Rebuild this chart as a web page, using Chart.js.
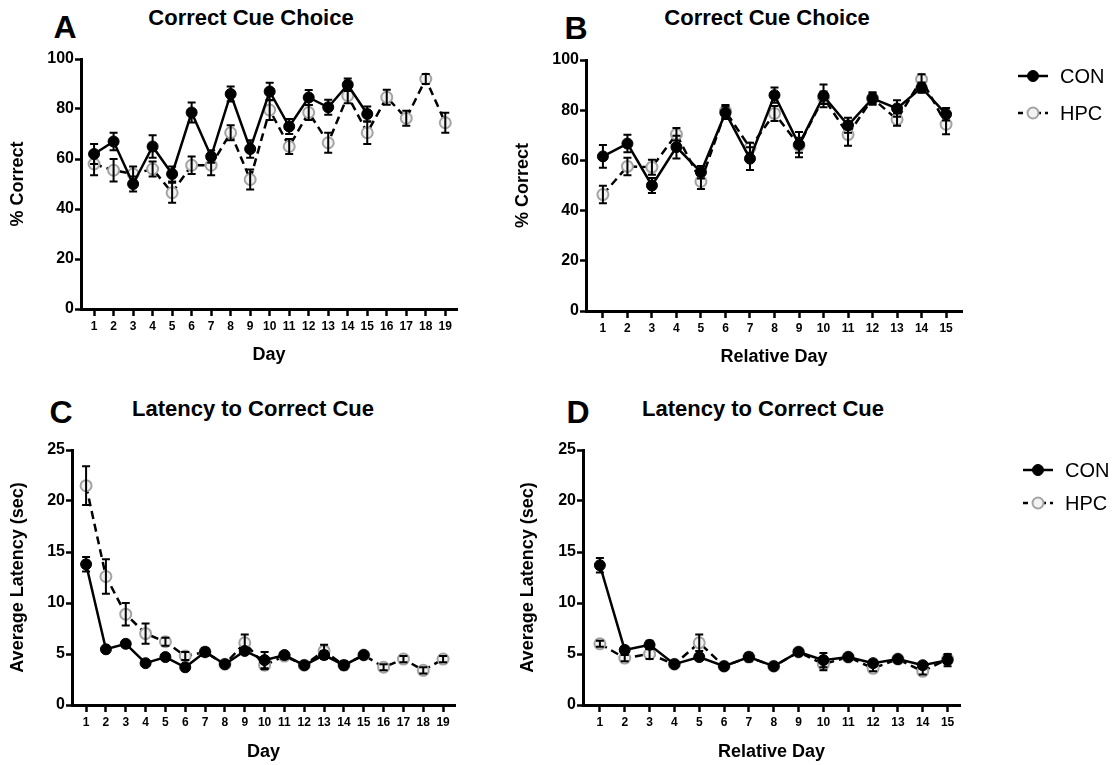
<!DOCTYPE html>
<html>
<head>
<meta charset="utf-8">
<script src="https://cdn.jsdelivr.net/npm/chart.js@4.4.1/dist/chart.umd.min.js"></script>
<style>
  body { margin: 0; background: #fff; width: 1115px; height: 765px; position: relative; overflow: hidden;
         font-family: "Liberation Sans", Arial, sans-serif; }
  canvas { position: absolute; }
  .title { position: absolute; font-weight: bold; font-size: 22px; transform: translate(-50%, -50%); white-space: nowrap; }
  .letter { position: absolute; font-weight: bold; font-size: 32px; transform: translate(-50%, -50%); }
</style>
</head>
<body>
<div class="letter" style="left:65px;top:27px">A</div>
<div class="letter" style="left:576px;top:28px">B</div>
<div class="letter" style="left:61px;top:412px">C</div>
<div class="letter" style="left:578px;top:412px">D</div>
<div class="title" style="left:251px;top:18px">Correct Cue Choice</div>
<div class="title" style="left:767px;top:18px">Correct Cue Choice</div>
<div class="title" style="left:253px;top:409px">Latency to Correct Cue</div>
<div class="title" style="left:763px;top:409px">Latency to Correct Cue</div>

<canvas id="chartA" width="470" height="380" style="left:0;top:0"></canvas>
<canvas id="chartB" width="615" height="380" style="left:500px;top:0"></canvas>
<canvas id="chartC" width="470" height="380" style="left:0;top:385px"></canvas>
<canvas id="chartD" width="615" height="380" style="left:500px;top:385px"></canvas>

<script>
// days
const days = [1, 2, 3, 4, 5, 6, 7, 8, 9, 10, 11, 12, 13, 14, 15, 16, 17, 18, 19];
const relDays = [1, 2, 3, 4, 5, 6, 7, 8, 9, 10, 11, 12, 13, 14, 15];
const choiceTicks = [0, 20, 40, 60, 80, 100];
const latencyTicks = [0, 5, 10, 15, 20, 25];

// A: correct cue choice by day (% correct, mean and SEM)
const conChoiceDay = [62, 67, 50, 65, 54, 78.6, 61, 86, 64, 87, 73, 84.6, 80.7, 89.7, 78];
const conChoiceDayErr = [4, 3.5, 3, 4.5, 3, 4, 2.5, 3, 3.5, 3.5, 3, 3, 3, 2.5, 3];
const hpcChoiceDay = [58, 55.5, 54, 56, 46.5, 57.5, 57.5, 70.5, 51.8, 79.6, 65, 78.6, 66.5, 85.3, 70.5, 84.7, 76.3, 92, 74.5];
const hpcChoiceDayErr = [4.5, 4.5, 3, 3, 4, 3.5, 4, 3, 4, 4, 3, 3, 4, 3, 4.5, 3, 3, 2, 4];

// B: correct cue choice by relative day
const conChoiceRel = [61.6, 66.7, 50, 65.3, 55.3, 79, 60.7, 86, 66.3, 85.7, 74, 84.7, 80.7, 89, 78.4];
const conChoiceRelErr = [4.5, 3.5, 3, 4.5, 2.5, 2.5, 4.5, 3, 5, 4.5, 3, 2.5, 3.3, 2, 2.5];
const hpcChoiceRel = [46.4, 57.6, 57.3, 70.4, 51.6, 79.6, 65, 78.7, 66, 85, 70.3, 84.7, 76.3, 92.3, 74.4];
const hpcChoiceRelErr = [3.5, 3.5, 3, 2.5, 3, 2.5, 2, 3, 3, 2.5, 4.5, 2, 2.5, 2, 4];

// C: latency to correct cue by day (sec)
const conLatDay = [13.8, 5.46, 6.0, 4.1, 4.7, 3.7, 5.2, 4.0, 5.3, 4.4, 4.9, 3.9, 4.9, 3.9, 4.9];
const conLatDayErr = [0.7, 0.25, 0.3, 0.25, 0.25, 0.25, 0.3, 0.25, 0.3, 0.8, 0.3, 0.25, 0.4, 0.3, 0.3];
const hpcLatDay = [21.5, 12.6, 8.9, 7.0, 6.2, 4.8, 5.2, 4.0, 6.1, 3.9, 4.8, 3.9, 5.3, 3.9, 4.9, 3.7, 4.5, 3.4, 4.5];
const hpcLatDayErr = [1.9, 1.7, 1.1, 1.0, 0.4, 0.4, 0.4, 0.25, 0.8, 0.4, 0.3, 0.3, 0.6, 0.4, 0.3, 0.3, 0.3, 0.3, 0.3];

// D: latency to correct cue by relative day
const conLatRel = [13.7, 5.4, 5.9, 4.0, 4.7, 3.8, 4.7, 3.8, 5.2, 4.4, 4.7, 4.1, 4.5, 3.9, 4.4];
const conLatRelErr = [0.7, 0.3, 0.4, 0.2, 0.3, 0.2, 0.4, 0.2, 0.3, 0.7, 0.3, 0.3, 0.3, 0.3, 0.6];
const hpcLatRel = [6.0, 4.6, 5.0, 4.0, 6.1, 3.8, 4.7, 3.8, 5.2, 4.0, 4.7, 3.6, 4.5, 3.3, 4.5];
const hpcLatRelErr = [0.3, 0.3, 0.5, 0.2, 0.8, 0.3, 0.3, 0.2, 0.3, 0.6, 0.3, 0.3, 0.3, 0.3, 0.4];

const FONT = '"Liberation Sans", Arial, sans-serif';

// mean +/- SEM whiskers, drawn over the points
const errorBars = {
  id: 'errorBars',
  afterDatasetsDraw(chart) {
    const {ctx, scales: {x, y}} = chart;
    ctx.save();
    ctx.strokeStyle = '#000';
    ctx.lineWidth = 2;
    chart.data.datasets.forEach(ds => {
      if (!ds.errors) return;
      ds.data.forEach((p, j) => {
        const e = ds.errors[j];
        const px = x.getPixelForValue(p.x);
        const top = y.getPixelForValue(p.y + e);
        const bot = y.getPixelForValue(p.y - e);
        ctx.beginPath();
        ctx.moveTo(px, top); ctx.lineTo(px, bot);
        ctx.moveTo(px - 4, top); ctx.lineTo(px + 4, top);
        ctx.moveTo(px - 4, bot); ctx.lineTo(px + 4, bot);
        ctx.stroke();
      });
    });
    ctx.restore();
  }
};

// prism-style legend: line segment with marker, then label
const sideLegend = {
  id: 'sideLegend',
  afterDraw(chart, args, opts) {
    if (!opts.show) return;
    const ctx = chart.ctx;
    chart.data.datasets.forEach((ds, i) => {
      const cy = opts.y + i * opts.gap;
      ctx.save();
      ctx.strokeStyle = ds.borderColor;
      ctx.lineWidth = ds.borderWidth;
      ctx.setLineDash(ds.borderDash ? [5, 4] : []);
      ctx.beginPath();
      ctx.moveTo(opts.x, cy); ctx.lineTo(opts.x + 30, cy);
      ctx.stroke();
      ctx.setLineDash([]);
      ctx.beginPath();
      ctx.arc(opts.x + 15, cy, ds.pointRadius, 0, Math.PI * 2);
      ctx.fillStyle = ds.pointBackgroundColor;
      ctx.fill();
      ctx.lineWidth = ds.pointBorderWidth;
      ctx.strokeStyle = ds.pointBorderColor;
      ctx.stroke();
      ctx.fillStyle = '#000';
      ctx.font = '20px ' + FONT;
      ctx.textBaseline = 'middle';
      ctx.fillText(ds.label, opts.x + 42, cy + 1);
      ctx.restore();
    });
  }
};

const pts = (xs, ys) => ys.map((v, i) => ({x: xs[i], y: v}));

function makePanel(id, cfg) {
  const c = document.getElementById(id);
  const area = cfg.area;
  new Chart(c, {
    type: 'line',
    data: {
      datasets: [
        {
          label: 'CON', data: pts(cfg.xs, cfg.con), errors: cfg.conErr,
          borderColor: '#000', borderWidth: 2.5,
          pointRadius: 5.5, pointBackgroundColor: '#000', pointBorderColor: '#000', pointBorderWidth: 1
        },
        {
          label: 'HPC', data: pts(cfg.xs, cfg.hpc), errors: cfg.hpcErr,
          borderColor: '#000', borderWidth: 2.5, borderDash: [8, 5],
          pointRadius: 5.5, pointBackgroundColor: '#f2f2f2', pointBorderColor: '#a3a3a3', pointBorderWidth: 2
        }
      ]
    },
    options: {
      responsive: false,
      animation: false,
      layout: {padding: {left: 0, top: area.top, right: c.width - area.right, bottom: 0}},
      plugins: {
        legend: {display: false},
        tooltip: {enabled: false},
        sideLegend: cfg.legend || {}
      },
      scales: {
        x: {
          type: 'linear',
          min: cfg.xMin, max: cfg.xMax,
          afterBuildTicks: s => { s.ticks = cfg.xs.map(v => ({value: v})); },
          afterFit: s => { s.height = c.height - area.bottom; },
          grid: {display: true, drawOnChartArea: false, drawTicks: true, tickLength: 7, tickWidth: 2.5, tickColor: '#000'},
          border: {display: true, color: '#000', width: 3},
          ticks: {color: '#000', font: {family: FONT, size: 12, weight: 'bold'}, padding: 3, maxRotation: 0, autoSkip: false},
          title: {display: true, text: cfg.xTitle, color: '#000', font: {family: FONT, size: 18, weight: 'bold'},
                  padding: {top: 0, bottom: cfg.xTitlePad}}
        },
        y: {
          min: 0, max: cfg.yTicks[cfg.yTicks.length - 1],
          afterBuildTicks: s => { s.ticks = cfg.yTicks.map(v => ({value: v})); },
          afterFit: s => { s.width = area.left; },
          grid: {display: true, drawOnChartArea: false, drawTicks: true, tickLength: 6, tickWidth: 2.5, tickColor: '#000'},
          border: {display: true, color: '#000', width: 3},
          ticks: {color: '#000', font: {family: FONT, size: 16, weight: 'bold'}, padding: 1},
          title: {display: true, text: cfg.yTitle, color: '#000', font: {family: FONT, size: 18, weight: 'bold'},
                  padding: {top: cfg.yTitlePad, bottom: 0}}
        }
      }
    },
    plugins: [errorBars, sideLegend]
  });
}

makePanel('chartA', {
  xs: days, con: conChoiceDay, conErr: conChoiceDayErr, hpc: hpcChoiceDay, hpcErr: hpcChoiceDayErr,
  yTicks: choiceTicks, xMin: 0.33, xMax: 19.6, xTitle: 'Day', yTitle: '% Correct',
  area: {left: 81, top: 59, right: 457, bottom: 309}, xTitlePad: 14, yTitlePad: 7
});
makePanel('chartB', {
  xs: relDays, con: conChoiceRel, conErr: conChoiceRelErr, hpc: hpcChoiceRel, hpcErr: hpcChoiceRelErr,
  yTicks: choiceTicks, xMin: 0.31, xMax: 15.65, xTitle: 'Relative Day', yTitle: '% Correct',
  area: {left: 86, top: 60, right: 462, bottom: 311}, xTitlePad: 12, yTitlePad: 12,
  legend: {show: true, x: 518, y: 76, gap: 37}
});
makePanel('chartC', {
  xs: days, con: conLatDay, conErr: conLatDayErr, hpc: hpcLatDay, hpcErr: hpcLatDayErr,
  yTicks: latencyTicks, xMin: 0.29, xMax: 19.6, xTitle: 'Day', yTitle: 'Average Latency (sec)',
  area: {left: 72, top: 65, right: 455, bottom: 320}, xTitlePad: 2, yTitlePad: 7
});
makePanel('chartD', {
  xs: relDays, con: conLatRel, conErr: conLatRelErr, hpc: hpcLatRel, hpcErr: hpcLatRelErr,
  yTicks: latencyTicks, xMin: 0.32, xMax: 15.5, xTitle: 'Relative Day', yTitle: 'Average Latency (sec)',
  area: {left: 83, top: 65, right: 460, bottom: 320}, xTitlePad: 2, yTitlePad: 17,
  legend: {show: true, x: 523, y: 85, gap: 33}
});
</script>
</body>
</html>
